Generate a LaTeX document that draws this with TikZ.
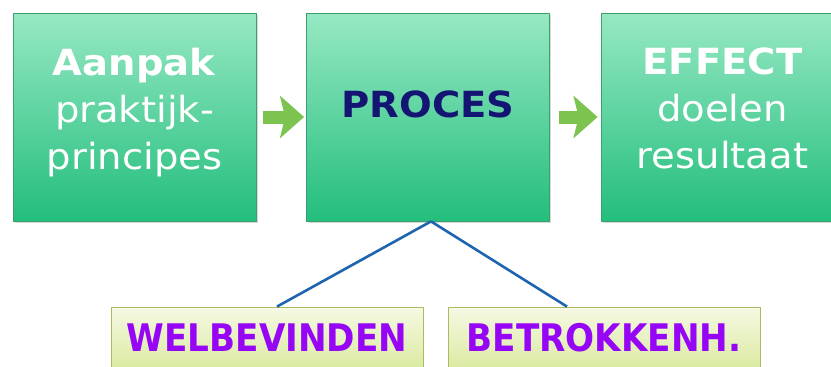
\documentclass[tikz,border=0pt]{standalone}
\usepackage{fontspec}
\setmainfont{DejaVu Sans}[FakeStretch=1.07]
\newfontfamily\condbold{DejaVu Sans Condensed Bold}
\usetikzlibrary{arrows.meta,shadows,calc}
\definecolor{boxlight}{RGB}{150,232,195}
\definecolor{boxdark}{RGB}{35,190,125}
\definecolor{boxline}{RGB}{60,160,110}
\definecolor{taglight}{RGB}{246,249,228}
\definecolor{tagdark}{RGB}{218,234,160}
\definecolor{tagline}{RGB}{175,185,100}
\definecolor{tagpurple}{RGB}{150,5,245}
\definecolor{procesblue}{RGB}{20,20,115}
\definecolor{flowgreen}{RGB}{125,195,80}
\definecolor{linkblue}{RGB}{30,100,175}

\begin{document}
\begin{tikzpicture}[x=1pt,y=-1pt,
  greenbox/.style={draw=boxline, line width=0.8pt, top color=boxlight, bottom color=boxdark,
    minimum width=243pt, minimum height=208pt, inner sep=0pt, align=center, text=white,
    font=\fontsize{36}{47}\selectfont, text depth=17pt,
    drop shadow={shadow xshift=1.5pt, shadow yshift=-1.5pt, opacity=.3, fill=gray}},
  yellowbox/.style={draw=tagline, line width=0.8pt, top color=taglight, bottom color=tagdark,
    minimum width=312pt, minimum height=62pt, inner sep=0pt, text=tagpurple,
    font=\condbold\fontsize{38}{38}\selectfont},
  flow/.style={draw=flowgreen, line width=13pt, -{Stealth[length=24pt,width=42pt,inset=5pt]}},
  link/.style={draw=linkblue, line width=2.6pt}]
\useasboundingbox (0,0) rectangle (831,367);
\clip (0,0) rectangle (831,367);
\fill[white] (0,0) rectangle (831,367);

% top row
\node[greenbox] (aanpak) at (134.5,117) {\textbf{Aanpak}\\praktijk-\\principes};
\node[greenbox, text=procesblue, font=\bfseries\fontsize{36}{47}\selectfont,
  text height=24pt, text depth=24pt] (proces) at (428,117) {PROCES};
\node[greenbox] (effect) at (722.5,117) {\textbf{EFFECT}\\doelen\\resultaat};

% bottom row
\node[yellowbox] (welbevinden) at (267,338) {WELBEVINDEN};
\node[yellowbox] (betrokken) at (604,338) {BETROKKENH.};

\draw[flow, shorten <=7pt, shorten >=2pt] (aanpak) -- (proces);
\draw[flow, shorten <=9pt, shorten >=3pt] (proces) -- (effect);

\draw[link] ($(proces.south)+(3,0)$) -- ($(welbevinden.north)+(10,0)$);
\draw[link] ($(proces.south)+(3,0)$) -- ($(betrokken.north)+(-37,0)$);
\end{tikzpicture}
\end{document}
